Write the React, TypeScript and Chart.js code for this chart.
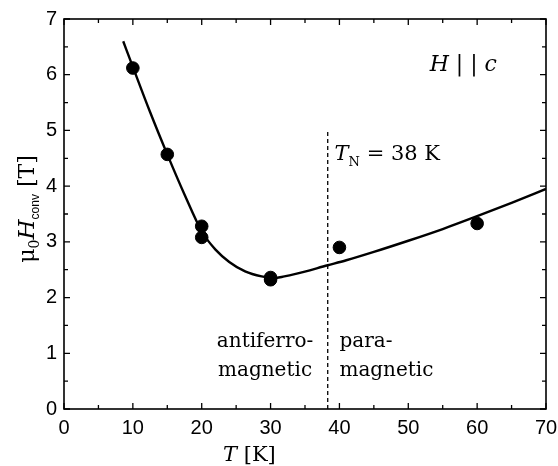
import React, { useEffect, useRef } from "react";
import { Chart, registerables } from "chart.js";

Chart.register(...registerables);

// Measured points
const measuredT = [10, 15, 20, 20, 30, 30, 40, 60];
const measuredH = [6.12, 4.57, 3.28, 3.08, 2.36, 2.32, 2.9, 3.33];

// Fit curve
const fitT = [8.6, 10, 12.5, 15, 17.5, 20, 22, 24, 26.3, 28.7, 30.5, 32, 33.5, 38.3, 41, 45, 50, 55, 60, 65, 70];
const fitH = [6.6, 6.14, 5.33, 4.57, 3.85, 3.19, 2.86, 2.64, 2.47, 2.38, 2.35, 2.38, 2.42, 2.58, 2.67, 2.82, 3.02, 3.23, 3.46, 3.7, 3.95];

// Néel temperature marker
const neelT = 38.3;
const neelH = [0, 4.98];

// Axis ticks
const xMajor = [0, 10, 20, 30, 40, 50, 60, 70];
const xMinor = [5, 15, 25, 35, 45, 55, 65];
const yMajor = [0, 1, 2, 3, 4, 5, 6, 7];
const yMinor = [0.5, 1.5, 2.5, 3.5, 4.5, 5.5, 6.5];

const SERIF = '"DejaVu Serif"';
const SANS = '"Liberation Sans"';

type Run = { t: string; font: string; dy?: number };

function runsWidth(ctx: CanvasRenderingContext2D, runs: Run[]) {
  let w = 0;
  for (const r of runs) {
    ctx.font = r.font;
    w += ctx.measureText(r.t).width;
  }
  return w;
}

function drawRuns(ctx: CanvasRenderingContext2D, runs: Run[], x: number, y: number) {
  let cx = x;
  for (const r of runs) {
    ctx.font = r.font;
    ctx.fillText(r.t, cx, y + (r.dy || 0));
    cx += ctx.measureText(r.t).width;
  }
}

const framePlugin = {
  id: "frameTicks",
  afterDatasetsDraw(chart: any) {
    const { ctx, chartArea: a, scales } = chart;
    const x = scales.x;
    const y = scales.y;
    ctx.save();
    ctx.strokeStyle = "#000";
    ctx.lineWidth = 1.6;
    ctx.strokeRect(a.left, a.top, a.right - a.left, a.bottom - a.top);
    ctx.lineWidth = 1.3;
    ctx.beginPath();
    const xt = (v: number, len: number) => {
      const px = x.getPixelForValue(v);
      ctx.moveTo(px, a.bottom);
      ctx.lineTo(px, a.bottom - len);
      ctx.moveTo(px, a.top);
      ctx.lineTo(px, a.top + len);
    };
    const yt = (v: number, len: number) => {
      const py = y.getPixelForValue(v);
      ctx.moveTo(a.left, py);
      ctx.lineTo(a.left + len, py);
      ctx.moveTo(a.right, py);
      ctx.lineTo(a.right - len, py);
    };
    xMajor.forEach((v) => xt(v, 6));
    xMinor.forEach((v) => xt(v, 4));
    yMajor.forEach((v) => yt(v, 6));
    yMinor.forEach((v) => yt(v, 4));
    ctx.stroke();
    ctx.restore();
  },
  afterDraw(chart: any) {
    const { ctx, scales } = chart;
    const x = scales.x;
    const y = scales.y;
    ctx.save();
    ctx.fillStyle = "#000";
    ctx.textBaseline = "alphabetic";
    ctx.textAlign = "left";

    // Y axis title (rotated)
    const yRuns: Run[] = [
      { t: "\u03bc", font: `22px ${SERIF}` },
      { t: "0", font: `14px ${SERIF}`, dy: 5 },
      { t: "H", font: `italic 23px ${SERIF}` },
      { t: "conv", font: `12px ${SANS}`, dy: 5 },
      { t: " [T]", font: `22px ${SERIF}` },
    ];
    const yw = runsWidth(ctx, yRuns);
    ctx.save();
    ctx.translate(34, 209);
    ctx.rotate(-Math.PI / 2);
    drawRuns(ctx, yRuns, -yw / 2, 0);
    ctx.restore();

    // X axis title
    drawRuns(
      ctx,
      [
        { t: "T", font: `italic 21px ${SERIF}` },
        { t: " [K]", font: `21px ${SERIF}` },
      ],
      223,
      461
    );

    // H || c
    drawRuns(
      ctx,
      [
        { t: "H", font: `italic 22px ${SERIF}` },
        { t: " | | ", font: `22px ${SERIF}` },
        { t: "c", font: `italic 22px ${SERIF}` },
      ],
      x.getPixelForValue(53.1),
      y.getPixelForValue(6.06)
    );

    // T_N = 38 K
    drawRuns(
      ctx,
      [
        { t: "T", font: `italic 21px ${SERIF}` },
        { t: "N", font: `13px ${SERIF}`, dy: 6 },
        { t: " = 38 K", font: `21px ${SERIF}` },
      ],
      x.getPixelForValue(39.3),
      y.getPixelForValue(4.478)
    );

    // region labels
    ctx.font = `20px ${SERIF}`;
    ctx.textAlign = "center";
    const cxL = x.getPixelForValue(29.2);
    ctx.fillText("antiferro-", cxL, y.getPixelForValue(1.12));
    ctx.fillText("magnetic", cxL, y.getPixelForValue(0.6));
    ctx.textAlign = "left";
    const lxR = x.getPixelForValue(40.0);
    ctx.fillText("para-", lxR, y.getPixelForValue(1.12));
    ctx.fillText("magnetic", lxR, y.getPixelForValue(0.6));
    ctx.restore();
  },
};

export default function App() {
  const ref = useRef<HTMLCanvasElement>(null);
  useEffect(() => {
    if (!ref.current) return;
    const chart = new Chart(ref.current, {
      type: "scatter",
      data: {
        datasets: [
          {
            type: "scatter",
            label: "measured",
            data: measuredT.map((t, i) => ({ x: t, y: measuredH[i] })),
            backgroundColor: "#000",
            borderColor: "#000",
            pointRadius: 6.3,
            pointHoverRadius: 6.3,
            order: 0,
          },
          {
            type: "line",
            label: "fit",
            data: fitT.map((t, i) => ({ x: t, y: fitH[i] })),
            borderColor: "#000",
            borderWidth: 2.4,
            pointRadius: 0,
            fill: false,
            cubicInterpolationMode: "monotone",
            order: 1,
          },
          {
            type: "line",
            label: "TN",
            data: neelH.map((h) => ({ x: neelT, y: h })),
            borderColor: "#000",
            borderWidth: 1.3,
            borderDash: [4, 3],
            pointRadius: 0,
            fill: false,
            order: 2,
          },
        ],
      } as any,
      options: {
        animation: false,
        responsive: false,
        devicePixelRatio: 1,
        layout: { padding: { top: 19, right: 12, left: 0, bottom: 0 } },
        plugins: {
          legend: { display: false },
          tooltip: { enabled: false },
          title: { display: false },
        },
        scales: {
          x: {
            type: "linear",
            min: 0,
            max: 70,
            grid: { display: false, drawTicks: false },
            border: { display: false },
            ticks: {
              stepSize: 10,
              padding: 7,
              color: "#000",
              font: { family: "Liberation Sans", size: 20 },
              maxRotation: 0,
            },
            afterFit: (s: any) => {
              s.height = 57;
              s.paddingLeft = 0;
              s.paddingRight = 0;
            },
          },
          y: {
            type: "linear",
            min: 0,
            max: 7,
            grid: { display: false, drawTicks: false },
            border: { display: false },
            ticks: {
              stepSize: 1,
              padding: 7,
              color: "#000",
              font: { family: "Liberation Sans", size: 20 },
            },
            afterFit: (s: any) => {
              s.width = 64;
              s.paddingTop = 0;
              s.paddingBottom = 0;
            },
          },
        },
      } as any,
      plugins: [framePlugin],
    });
    return () => chart.destroy();
  }, []);
  return (
    <div style={{ position: "fixed", left: 0, top: 0, width: 558, height: 466, background: "#fff" }}>
      <canvas ref={ref} width={558} height={466} style={{ display: "block", width: 558, height: 466 }} />
    </div>
  );
}
